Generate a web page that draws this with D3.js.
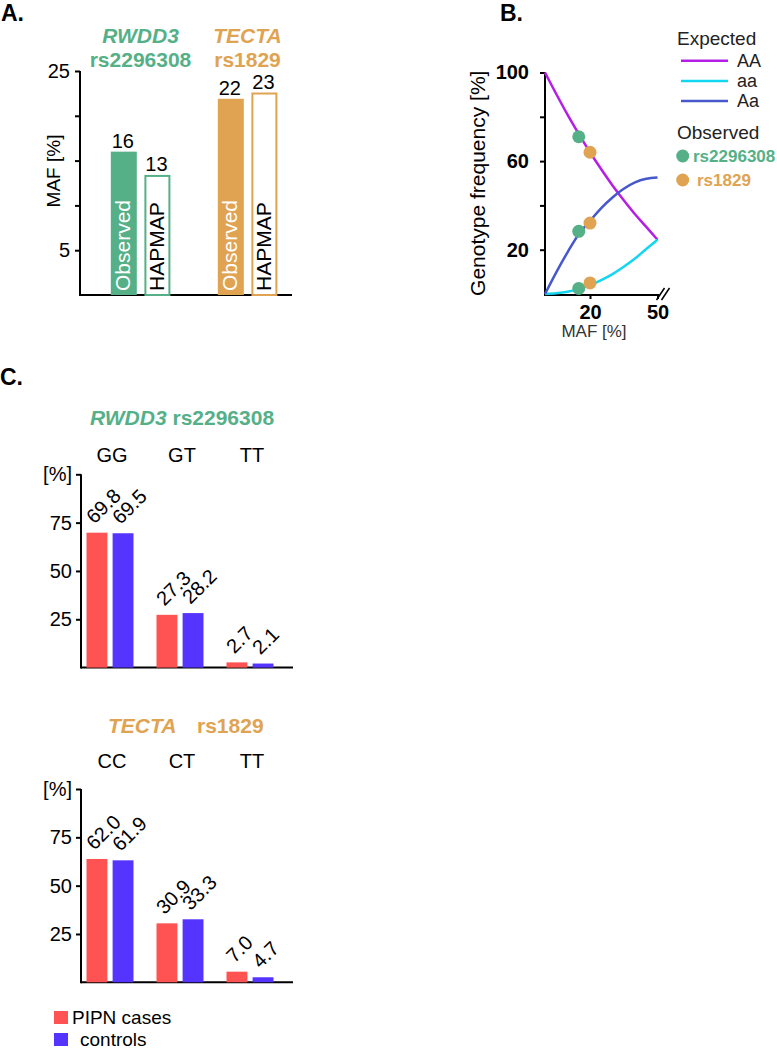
<!DOCTYPE html>
<html><head><meta charset="utf-8">
<script src="https://cdn.jsdelivr.net/npm/d3@7"></script>
<style>
html,body{margin:0;padding:0;background:#fff;}
svg{display:block;font-family:"Liberation Sans",Arial,sans-serif;}
.axis path,.axis line{stroke:#000;stroke-width:2;}
</style></head><body>
<svg id="chart" width="777" height="1050"></svg>
<script>
// ---------- Panel A data ----------
const genesA = ["RWDD3", "TECTA"];
const snpsA = ["rs2296308", "rs1829"];
const sourcesA = ["Observed", "HAPMAP"];
const observedMAF = [16, 21.9];
const hapmapMAF = [13.4, 22.6];
const observedLabels = ["16", "22"];
const hapmapLabels = ["13", "23"];
const mafTicksA = [5, 10, 15, 20, 25];
const mafTickLabelsA = ["5", "", "", "", "25"];

// ---------- Panel B data ----------
const mafGrid = [0, 5, 10, 15, 20, 25, 30, 35, 40, 45, 50];
const expAA = [100, 90.3, 81, 72.3, 64, 56.3, 49, 42.3, 36, 30.3, 24.5];
const expaa = [0, 0.3, 1, 2.3, 4, 6.3, 9, 12.3, 16, 20.3, 24.5];
const expAa = [0, 9.8, 18.8, 27, 33, 38.8, 43.6, 47.5, 50.4, 52, 52.6];
const expNames = ["AA", "aa", "Aa"];
const obsSNPs = ["rs2296308", "rs1829"];
const obsMAF = [15, 20];
const obsAA = [71, 64];
const obsAa = [28.3, 32];
const obsaa = [2.5, 5];
const freqTicksB = [20, 40, 60, 80, 100];
const freqTickLabelsB = ["20", "", "60", "", "100"];
const mafTicksB = [20, 50];

// ---------- Panel C data ----------
const genotypesR = ["GG", "GT", "TT"];
const casesR = [69.8, 27.3, 2.7];
const controlsR = [69.5, 28.2, 2.1];
const casesRLabels = ["69.8", "27.3", "2.7"];
const controlsRLabels = ["69.5", "28.2", "2.1"];
const genotypesT = ["CC", "CT", "TT"];
const casesT = [63.8, 30.5, 5.5];
const controlsT = [63.1, 32.6, 2.6];
const casesTLabels = ["62.0", "30.9", "7.0"];
const controlsTLabels = ["61.9", "33.3", "4.7"];
const pctTicksC = [25, 50, 75, 100];
const groupsC = ["PIPN cases", "controls"];

// ---------- styles ----------
const GREEN = "#55b088", ORANGE = "#e0a352";
const RED = "#ff5353", BLUE = "#5634ff";
const C_AA = "#b41ee6", C_aa = "#14d6f0", C_Aa = "#4658cc";
const geneColor = [GREEN, ORANGE];
const FONT = "Liberation Sans, Arial, sans-serif";

const svg = d3.select("#chart");
svg.append("rect").attr("width", 777).attr("height", 1050).attr("fill", "#fff");

function panelLetter(t, x, y) {
  svg.append("text").attr("x", x).attr("y", y).attr("font-size", 23)
    .attr("font-weight", "bold").text(t);
}
panelLetter("A.", 1, 21);
panelLetter("B.", 500, 21);
panelLetter("C.", 0, 385);

// ================= Panel A =================
{
  const y = d3.scaleLinear().domain([0, 25]).range([295, 71]);
  const xg = d3.scaleBand().domain(genesA).range([87, 301]);
  const xs = d3.scaleOrdinal().domain(sourcesA).range([-29.7, 3.9]);
  const bw = 26;
  const g = svg.append("g");

  const ax = g.append("g").attr("class", "axis").attr("transform", "translate(80,0)")
    .call(d3.axisLeft(y).tickValues(mafTicksA).tickSize(5).tickSizeOuter(0)
      .tickFormat((d, i) => mafTickLabelsA[i]));
  ax.select(".domain").attr("d", `M0,${y(25)}V${y(0) + 1}`);
  ax.selectAll("text").attr("font-size", 20).attr("fill", "#000")
    .attr("font-family", FONT).attr("dx", -2);
  g.append("line").attr("x1", 80).attr("x2", 292).attr("y1", y(0)).attr("y2", y(0))
    .attr("stroke", "#000").attr("stroke-width", 2);

  g.append("text").attr("transform", `translate(60,171) rotate(-90)`)
    .attr("text-anchor", "middle").attr("font-size", 19).attr("font-family", FONT).text("MAF [%]");

  genesA.forEach((gene, i) => {
    const c = xg(gene) + xg.bandwidth() / 2;
    const col = geneColor[i];
    g.append("text").attr("x", c).attr("y", 43).attr("text-anchor", "middle")
      .attr("font-size", 21).attr("font-weight", "bold").attr("font-style", "italic")
      .attr("fill", col).text(gene);
    g.append("text").attr("x", c).attr("y", 67).attr("text-anchor", "middle")
      .attr("font-size", 21).attr("font-weight", "bold").attr("fill", col).text(snpsA[i]);

    const vals = [observedMAF[i], hapmapMAF[i]];
    const labs = [observedLabels[i], hapmapLabels[i]];
    sourcesA.forEach((s, j) => {
      const bx = c + xs(s);
      const filled = j === 0;
      g.append("rect")
        .attr("x", filled ? bx : bx + 1).attr("y", filled ? y(vals[j]) : y(vals[j]) + 1)
        .attr("width", filled ? bw : bw - 2)
        .attr("height", filled ? y(0) - y(vals[j]) : y(0) - y(vals[j]) - 1)
        .attr("fill", filled ? col : "#fff").attr("stroke", filled ? "none" : col)
        .attr("stroke-width", filled ? 0 : 2);
      g.append("text").attr("x", bx + bw / 2 - 1).attr("y", y(vals[j]) - 4)
        .attr("text-anchor", "middle").attr("font-size", 20).text(labs[j]);
      g.append("text")
        .attr("transform", `translate(${bx + bw / 2 + 6.5},${y(0) - 4}) rotate(-90)`)
        .attr("font-size", 21).attr("fill", filled ? "#fff" : "#000").text(s);
    });
  });
}

// ================= Panel B =================
{
  const x = d3.scaleLinear().domain([0, 50]).range([545, 657.5]);
  const y = d3.scaleLinear().domain([0, 100]).range([294, 72.5]);
  const g = svg.append("g");

  const ay = g.append("g").attr("class", "axis").attr("transform", "translate(545,0)")
    .call(d3.axisLeft(y).tickValues(freqTicksB).tickSize(5).tickSizeOuter(0)
      .tickFormat((d, i) => freqTickLabelsB[i]));
  ay.select(".domain").attr("d", `M0,${y(100)}V${y(0) + 2}`);
  ay.selectAll("text").attr("font-size", 20).attr("font-weight", "bold").attr("fill", "#000")
    .attr("font-family", FONT).attr("dx", -8);

  const axx = g.append("g").attr("class", "axis").attr("transform", `translate(0,${y(0) + 1})`)
    .call(d3.axisBottom(x).tickValues(mafTicksB).tickSize(4).tickSizeOuter(0));
  axx.select(".domain").attr("d", `M545,0H${x(50) + 2}`);
  axx.selectAll("text").attr("font-size", 20).attr("font-weight", "bold").attr("fill", "#000")
    .attr("font-family", FONT).attr("y", 24).attr("dy", 0);
  [0, 5].forEach(o => {
    g.append("line").attr("x1", x(50) + o - 1).attr("y1", y(0) + 6)
      .attr("x2", x(50) + o + 7).attr("y2", y(0) - 6)
      .attr("stroke", "#000").attr("stroke-width", 1.5);
  });

  g.append("text").attr("x", 594).attr("y", 337).attr("text-anchor", "middle")
    .attr("font-size", 17).attr("fill", "#333").text("MAF [%]");
  g.append("text").attr("transform", `translate(485,${(y(0) + y(100)) / 2}) rotate(-90)`)
    .attr("text-anchor", "middle").attr("font-size", 21).text("Genotype frequency [%]");

  const line = d3.line().x((d, i) => x(mafGrid[i])).y(d => y(d)).curve(d3.curveCatmullRom);
  [[expAA, C_AA], [expaa, C_aa], [expAa, C_Aa]].forEach(([arr, col]) => {
    g.append("path").attr("d", line(arr)).attr("fill", "none")
      .attr("stroke", col).attr("stroke-width", 2.5);
  });

  const obsCols = [GREEN, ORANGE];
  obsSNPs.forEach((s, i) => {
    [obsAA[i], obsAa[i], obsaa[i]].forEach(v => {
      g.append("circle").attr("cx", x(obsMAF[i])).attr("cy", y(v)).attr("r", 6.5)
        .attr("fill", obsCols[i]);
    });
  });

  g.append("text").attr("x", 677).attr("y", 44.5).attr("font-size", 19).attr("fill", "#222").text("Expected");
  const legY = [60.7, 81, 101];
  [C_AA, C_aa, C_Aa].forEach((col, i) => {
    g.append("line").attr("x1", 681).attr("x2", 728).attr("y1", legY[i]).attr("y2", legY[i])
      .attr("stroke", col).attr("stroke-width", 2.5);
    g.append("text").attr("x", 737).attr("y", legY[i] + 6).attr("font-size", 18)
      .attr("fill", "#222").text(expNames[i]);
  });
  g.append("text").attr("x", 677).attr("y", 138.5).attr("font-size", 19).attr("fill", "#222").text("Observed");
  const obsLegY = [156, 180];
  const obsLegX = [693, 697];
  obsSNPs.forEach((s, i) => {
    g.append("circle").attr("cx", 682.7).attr("cy", obsLegY[i]).attr("r", 6.5).attr("fill", obsCols[i]);
    g.append("text").attr("x", obsLegX[i]).attr("y", obsLegY[i] + 5.5).attr("font-size", 17)
      .attr("font-weight", "bold").attr("fill", obsCols[i]).text(s);
  });
}

// ================= Panel C =================
function genotypeChart(opts) {
  const { y0, y100, cats, cases, controls, casesLab, controlsLab, catY } = opts;
  const y = d3.scaleLinear().domain([0, 100]).range([y0, y100]);
  const xg = d3.scaleBand().domain(cats).range([75, 285]);
  const xi = d3.scaleBand().domain(groupsC).range([-23.5, 23.5]).paddingInner(0.2);
  const g = svg.append("g");

  const ax = g.append("g").attr("class", "axis").attr("transform", "translate(81,0)")
    .call(d3.axisLeft(y).tickValues(pctTicksC).tickSize(5).tickSizeOuter(0)
      .tickFormat(d => d === 100 ? "[%]" : d));
  ax.select(".domain").attr("d", `M0,${y(100)}V${y(0) + 1}`);
  ax.selectAll("text").attr("font-size", 20).attr("fill", "#000")
    .attr("font-family", FONT).attr("dx", -1);
  g.append("line").attr("x1", 81).attr("x2", 293).attr("y1", y(0)).attr("y2", y(0))
    .attr("stroke", "#000").attr("stroke-width", 2);

  cats.forEach((c, i) => {
    const cx = xg(c) + xg.bandwidth() / 2;
    g.append("text").attr("x", cx + 2).attr("y", catY).attr("text-anchor", "middle")
      .attr("font-size", 20).text(c);
    [[cases[i], casesLab[i], RED, groupsC[0]], [controls[i], controlsLab[i], BLUE, groupsC[1]]]
      .forEach(([v, lab, col, grp]) => {
        const bx = cx + xi(grp);
        g.append("rect").attr("x", bx).attr("y", y(v)).attr("width", xi.bandwidth())
          .attr("height", y(0) - y(v)).attr("fill", col);
        g.append("text").attr("transform", `translate(${bx + 8},${y(v) - 8}) rotate(-45)`)
          .attr("font-size", 20).text(lab);
      });
  });
  return g;
}

{
  const t = svg.append("text").attr("x", 90).attr("y", 425).attr("font-size", 21)
    .attr("font-weight", "bold").attr("fill", GREEN);
  t.append("tspan").attr("font-style", "italic").text("RWDD3");
  t.append("tspan").text(" rs2296308");
}
genotypeChart({ y0: 667.6, y100: 474.3, cats: genotypesR, cases: casesR, controls: controlsR,
  casesLab: casesRLabels, controlsLab: controlsRLabels, catY: 462 });

svg.append("text").attr("x", 108).attr("y", 733).attr("font-size", 21).attr("font-weight", "bold")
  .attr("font-style", "italic").attr("fill", ORANGE).text("TECTA");
svg.append("text").attr("x", 197).attr("y", 733).attr("font-size", 21).attr("font-weight", "bold")
  .attr("fill", ORANGE).text("rs1829");
genotypeChart({ y0: 982.3, y100: 789, cats: genotypesT, cases: casesT, controls: controlsT,
  casesLab: casesTLabels, controlsLab: controlsTLabels, catY: 768 });

{
  const legCols = [RED, BLUE];
  const legTextX = [72, 80];
  const legY = [1011, 1033];
  groupsC.forEach((gname, i) => {
    svg.append("rect").attr("x", 54).attr("y", legY[i]).attr("width", 14).attr("height", 13)
      .attr("fill", legCols[i]);
    svg.append("text").attr("x", legTextX[i]).attr("y", legY[i] + 13).attr("font-size", 19).text(gname);
  });
}
</script>
</body></html>
